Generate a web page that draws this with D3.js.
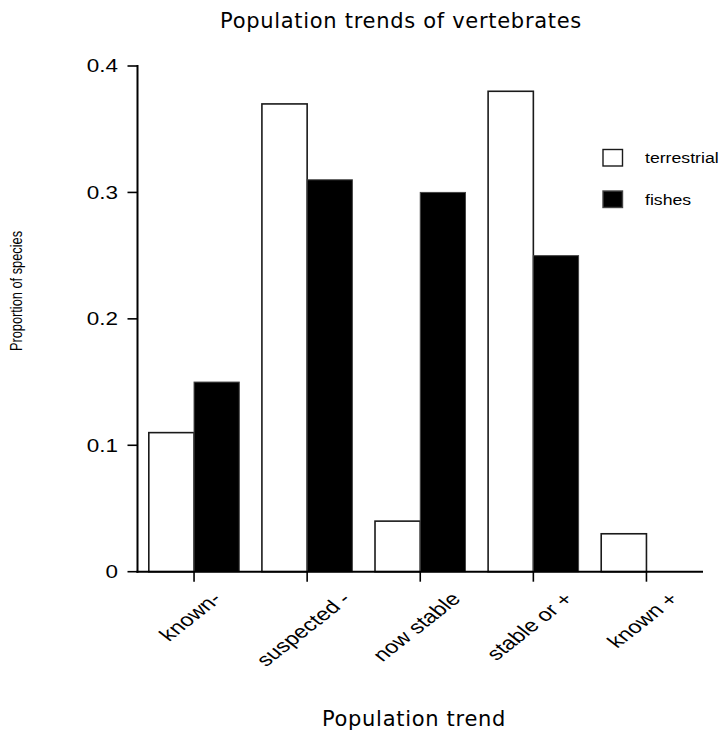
<!DOCTYPE html>
<html><head><meta charset="utf-8">
<script src="https://cdn.jsdelivr.net/npm/d3@7"></script>
<style>body{margin:0;background:#fff}svg{display:block}</style>
</head><body>
<svg id="c" width="724" height="733"></svg>
<script>
const categories = ["known-", "suspected -", "now stable", "stable or +", "known +"];
const seriesNames = ["terrestrial", "fishes"];
const terrestrial = [0.11, 0.37, 0.04, 0.38, 0.03];
const fishes = [0.15, 0.31, 0.30, 0.25, 0];
const yTicks = [0, 0.1, 0.2, 0.3, 0.4];
const yTickLabels = ["0", "0.1", "0.2", "0.3", "0.4"];
const titleText = "Population trends of vertebrates";
const xTitle = "Population trend";
const yTitle = "Proportion of species";

(function () {
const SX = 1.27; // horizontal stretch of the Helvetica-like texts
const svg = d3.select("#c");
const pLeft = 137.5, pRight = 703, pTop = 66, pBottom = 571.7;

const x = d3.scaleBand().domain(categories).range([pLeft, pRight]).paddingInner(0.2).paddingOuter(0.1);
const xs = d3.scaleBand().domain(seriesNames).range([0, x.bandwidth()]);
const y = d3.scaleLinear().domain([0, 0.4]).range([pBottom, pTop]);
const fill = d3.scaleOrdinal().domain(seriesNames).range(["#ffffff", "#000000"]);
const stroke = d3.scaleOrdinal().domain(seriesNames).range(["#1a1a1a", "#444444"]);

const rows = categories.map((c, i) => ({c, vals: [{s: "terrestrial", v: terrestrial[i]}, {s: "fishes", v: fishes[i]}]}));

// bars
const g = svg.append("g");
g.selectAll("g.grp").data(rows).join("g")
  .attr("transform", d => `translate(${x(d.c)},0)`)
  .selectAll("rect").data(d => d.vals.filter(e => e.v > 0)).join("rect")
  .attr("x", d => xs(d.s))
  .attr("width", xs.bandwidth())
  .attr("y", d => y(d.v))
  .attr("height", d => y(0) - y(d.v))
  .attr("fill", d => fill(d.s))
  .attr("stroke", d => stroke(d.s))
  .attr("stroke-width", d => d.s === "terrestrial" ? 1.6 : 1);

// y axis
const yAxis = svg.append("g").attr("transform", `translate(${pLeft},0)`);
yAxis.append("line").attr("x1", 0).attr("x2", 0).attr("y1", y(0.4) - 1).attr("y2", y(0) + 1)
  .attr("stroke", "#000").attr("stroke-width", 2);
const yt = yAxis.selectAll("g.t").data(yTicks).join("g").attr("transform", d => `translate(0,${y(d)})`);
yt.append("line").attr("x1", -10).attr("x2", 0).attr("stroke", "#000").attr("stroke-width", 1.6);
yt.append("text").attr("transform", `translate(-19.5,0) scale(${SX},1)`)
  .attr("text-anchor", "end").attr("dy", "0.36em")
  .attr("font-family", "Liberation Sans, Arial, sans-serif").attr("font-size", 17.7).attr("fill", "#000")
  .text((d, i) => yTickLabels[i]);

// x axis
const xAxis = svg.append("g").attr("transform", `translate(0,${pBottom})`);
xAxis.append("line").attr("x1", pLeft - 1).attr("x2", pRight).attr("y1", 0).attr("y2", 0)
  .attr("stroke", "#000").attr("stroke-width", 2);
const xt = xAxis.selectAll("g.t").data(categories).join("g")
  .attr("transform", d => `translate(${x(d) + x.bandwidth() / 2},0)`);
xt.append("line").attr("y1", 0).attr("y2", 10).attr("stroke", "#000").attr("stroke-width", 1.6);
const fsX = 18.5;
xt.each(function(d) {
  const gg = d3.select(this);
  const t = gg.append("text")
    .attr("text-anchor", "middle").attr("dy", "0.35em")
    .attr("font-family", "Liberation Sans, Arial, sans-serif").attr("font-size", fsX).attr("fill", "#000")
    .text(d);
  const L = t.node().getComputedTextLength();
  const h = (L * Math.SQRT1_2 + fsX * 0.72 * Math.SQRT1_2);
  const cy = 19 + h / 2;
  t.attr("transform", `translate(-4,${cy}) scale(${SX},1) rotate(-45)`);
});

// titles
svg.append("text").attr("x", 401).attr("y", 28).attr("text-anchor", "middle")
  .attr("font-family", "DejaVu Sans, Verdana, sans-serif").attr("font-size", 21)
  .attr("letter-spacing", 0.7).attr("fill", "#000").text(titleText);
svg.append("text").attr("x", 414).attr("y", 726).attr("text-anchor", "middle")
  .attr("font-family", "DejaVu Sans, Verdana, sans-serif").attr("font-size", 21)
  .attr("letter-spacing", 0.7).attr("fill", "#000").text(xTitle);
svg.append("text").attr("transform", `translate(21.7,291) scale(${SX},1) rotate(-90)`)
  .attr("text-anchor", "middle")
  .attr("font-family", "Liberation Sans, Arial, sans-serif").attr("font-size", 12.8).attr("fill", "#000")
  .text(yTitle);

// legend
const lg = svg.append("g").selectAll("g").data(seriesNames).join("g")
  .attr("transform", (d, i) => `translate(603,${149.5 + i * 41.5})`);
lg.append("rect").attr("width", 19.5).attr("height", 16.5)
  .attr("fill", d => fill(d)).attr("stroke", d => stroke(d)).attr("stroke-width", 1.4);
lg.append("text").attr("transform", "translate(42,13.8) scale(1.22,1)")
  .attr("font-family", "Liberation Sans, Arial, sans-serif").attr("font-size", 14.5).attr("fill", "#000")
  .text(d => d);
})();
</script>
</body></html>
